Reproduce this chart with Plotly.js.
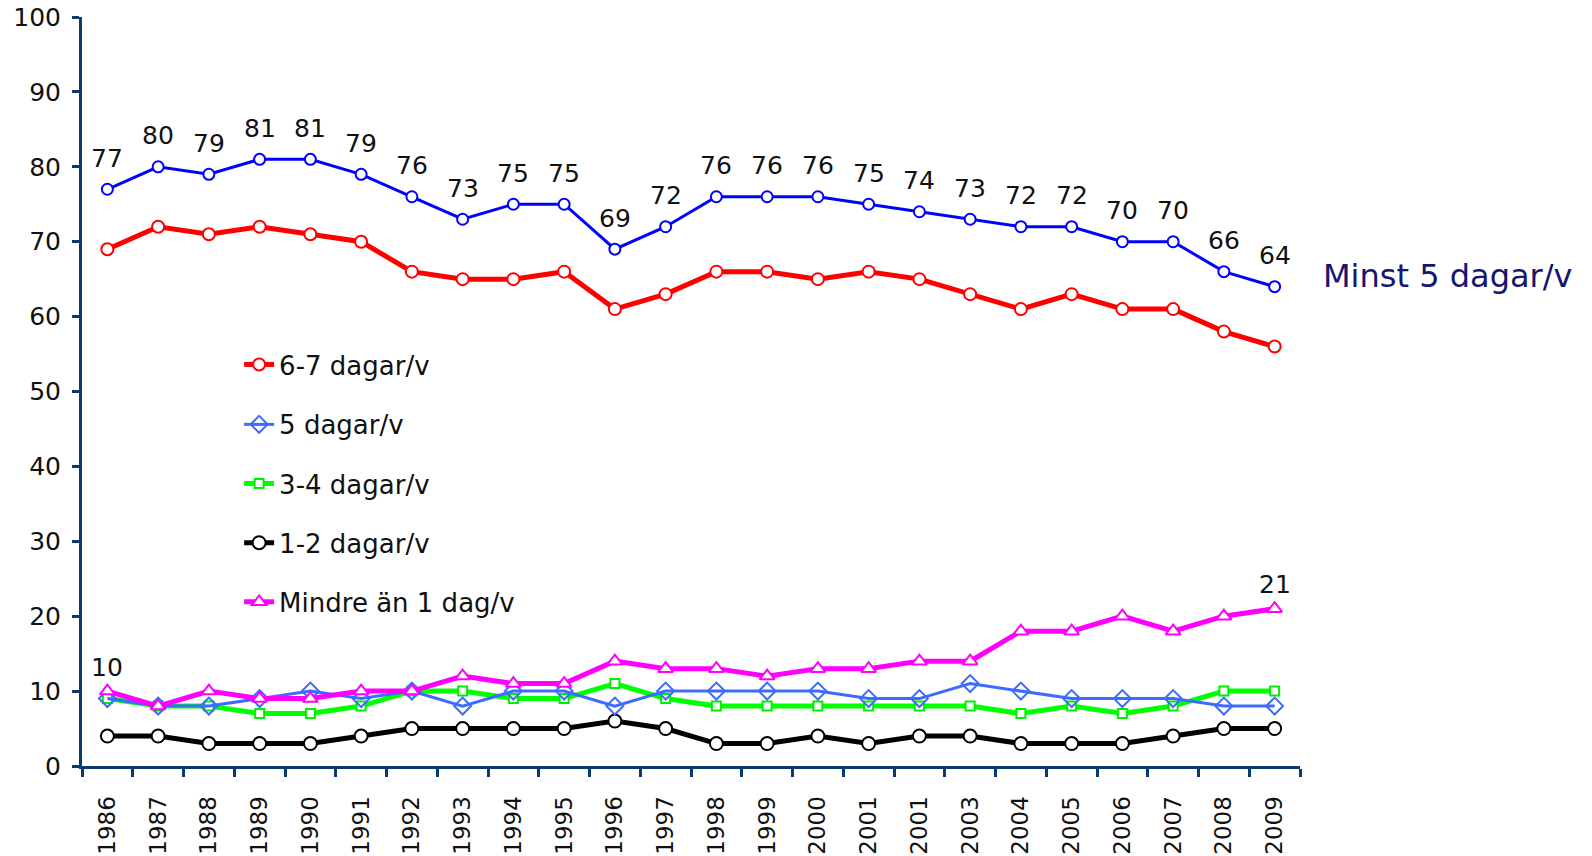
<!DOCTYPE html>
<html>
<head>
<meta charset="utf-8">
<script src="https://cdn.plot.ly/plotly-3.0.1.min.js"></script>
<style>html,body{margin:0;padding:0;background:#fff;}#chart{width:1592px;height:856px;}</style>
</head>
<body>
<div id="chart"></div>
<script>
const years = ['1986','1987','1988','1989','1990','1991','1992','1993','1994','1995','1996','1997','1998','1999','2000','2001','2001','2003','2004','2005','2006','2007','2008','2009'];
const minst5 = [77,80,79,81,81,79,76,73,75,75,69,72,76,76,76,75,74,73,72,72,70,70,66,64];
const d67 = [69,72,71,72,71,70,66,65,65,66,61,63,66,66,65,66,65,63,61,63,61,61,58,56];
const d5 = [9,8,8,9,10,9,10,8,10,10,8,10,10,10,10,9,9,11,10,9,9,9,8,8];
const d34 = [9,8,8,7,7,8,10,10,9,9,11,9,8,8,8,8,8,8,7,8,7,8,10,10];
const d12 = [4,4,3,3,3,4,5,5,5,5,6,5,3,3,4,3,4,4,3,3,3,4,5,5];
const lt1 = [10,8,10,9,9,10,10,12,11,11,14,13,13,12,13,13,14,14,18,18,20,18,20,21];
const seriesNames = ['6-7 dagar/v','5 dagar/v','3-4 dagar/v','1-2 dagar/v','Mindre än 1 dag/v'];
const minstLabel = 'Minst 5 dagar/v';
const lt1Labelled = [0, 23];

const xi = years.map((y, i) => i);
const FONT = 'DejaVu Sans, Verdana, sans-serif';
const AX = '#0b3a6f';

const traces = [
  {x: xi, y: minst5, mode: 'lines+markers', showlegend: false, name: minstLabel,
   line: {color: '#0000ff', width: 3},
   marker: {symbol: 'circle', size: 11, color: '#ffffff', line: {color: '#0000ff', width: 2}}},
  {x: xi, y: d12, mode: 'lines+markers', name: seriesNames[3], legend: 'legend4',
   line: {color: '#000000', width: 5},
   marker: {symbol: 'circle', size: 13, color: '#ffffff', line: {color: '#000000', width: 2}}},
  {x: xi, y: d34, mode: 'lines+markers', name: seriesNames[2], legend: 'legend3',
   line: {color: '#00ff00', width: 5},
   marker: {symbol: 'square', size: 9, color: '#ffffff', line: {color: '#00ee00', width: 2}}},
  {x: xi, y: d5, mode: 'lines+markers', name: seriesNames[1], legend: 'legend2',
   line: {color: '#3d6bff', width: 3},
   marker: {symbol: 'diamond', size: 13, color: 'rgba(255,255,255,0)', line: {color: '#3d6bff', width: 2}}},
  {x: xi, y: lt1, mode: 'lines+markers', name: seriesNames[4], legend: 'legend5',
   line: {color: '#ff00ff', width: 5},
   marker: {symbol: 'triangle-up', size: 13, color: '#ffffff', line: {color: '#ff00ff', width: 2}}},
  {x: xi, y: d67, mode: 'lines+markers', name: seriesNames[0], legend: 'legend',
   line: {color: '#ff0000', width: 5},
   marker: {symbol: 'circle', size: 12, color: '#ffffff', line: {color: '#ff0000', width: 2}}}
];

const annotations = minst5.map((v, i) => ({
  x: i, y: v, xref: 'x', yref: 'y', text: String(v), showarrow: false,
  yshift: 31, font: {family: FONT, size: 25, color: '#111111'}
}));
lt1Labelled.forEach(i => annotations.push({
  x: i, y: lt1[i], xref: 'x', yref: 'y', text: String(lt1[i]), showarrow: false,
  yshift: 24, font: {family: FONT, size: 25, color: '#111111'}
}));
annotations.push({
  x: 1.017, y: 65.4, xref: 'paper', yref: 'y', text: minstLabel, showarrow: false,
  xanchor: 'left', yanchor: 'middle', font: {family: FONT, size: 32, color: '#16166e'}
});

const legendYs = [53.6, 45.6, 37.7, 29.8, 21.9];
function mkLegend(yv) {
  return {x: 0.129, y: yv / 100, xanchor: 'left', yanchor: 'middle', bgcolor: 'rgba(0,0,0,0)',
          font: {family: FONT, size: 26, color: '#111111'}, borderwidth: 0};
}

const layout = {
  width: 1592, height: 856,
  margin: {l: 82, r: 292, t: 17, b: 90},
  paper_bgcolor: '#ffffff', plot_bgcolor: '#ffffff',
  showlegend: true,
  legend: mkLegend(legendYs[0]),
  legend2: mkLegend(legendYs[1]),
  legend3: mkLegend(legendYs[2]),
  legend4: mkLegend(legendYs[3]),
  legend5: mkLegend(legendYs[4]),
  xaxis: {
    range: [-0.5, 23.5], tickmode: 'array', tickvals: xi, ticktext: years,
    tickangle: -90, ticks: '', showgrid: false, zeroline: false,
    showline: true, linecolor: AX, linewidth: 3,
    tickfont: {family: FONT, size: 23, color: '#111111'},
    ticklabelstandoff: 18,
    minor: {tickmode: 'linear', tick0: -0.5, dtick: 1, ticks: 'outside', ticklen: 8,
            tickwidth: 3, tickcolor: AX, showgrid: false}
  },
  yaxis: {
    range: [0, 100], dtick: 10, ticks: 'outside', ticklen: 7, tickwidth: 3, tickcolor: AX,
    showgrid: false, zeroline: false, showline: true, linecolor: AX, linewidth: 3,
    tickfont: {family: FONT, size: 25, color: '#111111'}, ticklabelstandoff: 6
  },
  annotations: annotations
};

Plotly.newPlot('chart', traces, layout, {displayModeBar: false, staticPlot: true});
</script>
</body>
</html>
